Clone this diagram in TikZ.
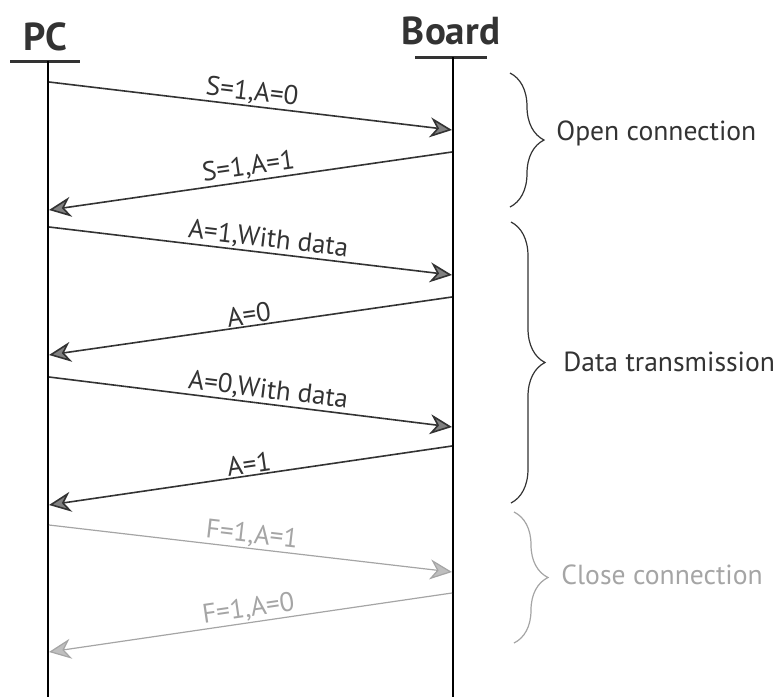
\documentclass[tikz,border=0pt]{standalone}
\usepackage{fontspec}
\setmainfont{PT Sans}
\usepackage{tikz}
\usetikzlibrary{arrows.meta,decorations.pathreplacing}
\definecolor{ink}{HTML}{333333}
\definecolor{faded}{HTML}{A5A5A5}

\begin{document}
\begin{tikzpicture}[x=0.5pt,y=-0.5pt,
  actor/.style={font=\fontsize{19.5}{22}\selectfont\bfseries,text=ink},
  msg/.style={draw=ink,line width=0.8pt,-{Stealth[length=11pt,width=10pt,inset=3.5pt,fill=black!50]}},
  fadedmsg/.style={draw=faded,line width=0.6pt,-{Stealth[length=11pt,width=10pt,inset=3.5pt,fill=black!25]}},
  lbl/.style={font=\fontsize{13.5}{15}\selectfont,text=ink,sloped,above,inner sep=0.5pt},
  grp/.style={line width=0.6pt,decorate,decoration={brace,amplitude=17pt}},
  grplbl/.style={font=\fontsize{13.8}{15}\selectfont,anchor=west,inner sep=0pt}]
  \useasboundingbox (0,0) rectangle (778,697);

  % actors
  \node[actor] (pc) at (45,37) {PC};
  \node[actor] (board) at (451,31) {Board};
  \coordinate (pcl) at (10,61);
  \coordinate (pcr) at (80,61);
  \coordinate (boardl) at (415,57);
  \coordinate (boardr) at (487,57);
  \draw[ink,line width=1.5pt] (pcl) -- (pcr);
  \draw[ink,line width=1.5pt] (boardl) -- (boardr);

  % lifelines
  \coordinate (pctop) at (48,61);
  \coordinate (pcbot) at (48,697);
  \coordinate (boardtop) at (453,57);
  \coordinate (boardbot) at (453,697);
  \draw[black,line width=1.2pt] (pctop) -- (pcbot);
  \draw[black,line width=1.2pt] (boardtop) -- (boardbot);

  % message ends
  \coordinate (a1) at (49,82);   \coordinate (b1) at (452,130);
  \coordinate (b2) at (452,152); \coordinate (a2) at (49,210);
  \coordinate (a3) at (49,227);  \coordinate (b3) at (452,275);
  \coordinate (b4) at (452,297); \coordinate (a4) at (49,355);
  \coordinate (a5) at (49,377);  \coordinate (b5) at (452,427);
  \coordinate (b6) at (452,446); \coordinate (a6) at (49,505);
  \coordinate (a7) at (49,525);  \coordinate (b7) at (452,572);
  \coordinate (b8) at (452,593); \coordinate (a8) at (49,652);

  % messages
  \draw[msg] (a1) -- node[lbl] {S=1,A=0} (b1);
  \draw[msg] (b2) -- node[lbl] {S=1,A=1} (a2);
  \draw[msg] (a3) -- node[lbl,pos=0.54] {A=1,With data} (b3);
  \draw[msg] (b4) -- node[lbl] {A=0} (a4);
  \draw[msg] (a5) -- node[lbl,pos=0.54] {A=0,With data} (b5);
  \draw[msg] (b6) -- node[lbl] {A=1} (a6);
  \draw[fadedmsg] (a7) -- node[lbl,text=faded] {F=1,A=1} (b7);
  \draw[fadedmsg] (b8) -- node[lbl,text=faded] {F=1,A=0} (a8);

  % phases
  \coordinate (open1) at (510,73);
  \coordinate (open2) at (510,207);
  \coordinate (data1) at (511,222);
  \coordinate (data2) at (511,503);
  \coordinate (close1) at (514,512);
  \coordinate (close2) at (514,643);
  \draw[grp,draw=ink] (open1) -- (open2);
  \draw[grp,draw=ink] (data1) -- (data2);
  \draw[grp,draw=faded] (close1) -- (close2);
  \node[grplbl,text=ink] (open) at (556,133) {Open connection};
  \node[grplbl,text=ink] (data) at (563,362) {Data transmission};
  \node[grplbl,text=faded] (close) at (561,575) {Close connection};
\end{tikzpicture}
\end{document}
